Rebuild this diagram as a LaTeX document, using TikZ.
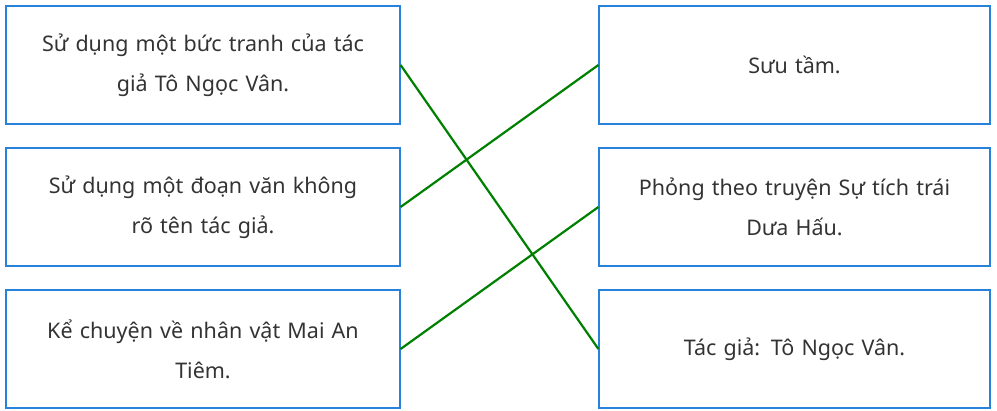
\documentclass[tikz,border=0pt]{standalone}
\usepackage{fontspec}
\setmainfont{Noto Sans}
\begin{document}
\begin{tikzpicture}[x=1pt,y=-1pt,
 box/.style={draw={rgb,255:red,40;green,130;blue,220},line width=1.2pt,minimum width=394pt,minimum height=118pt,text width=385pt,align=center,font=\fontsize{21.5}{40}\selectfont,text=black!80,inner sep=0pt},
 link/.style={draw=green!50!black,line width=2.2pt}]
\useasboundingbox (0,0) rectangle (997,411);
\node[box] (l1) at (203,65) {Sử dụng một bức tranh của tác\\giả Tô Ngọc Vân.};
\node[box] (l2) at (203,207) {Sử dụng một đoạn văn không\\rõ tên tác giả.};
\node[box] (l3) at (203,349) {Kể chuyện về nhân vật Mai An\\Tiêm.};
\node[box,minimum width=391pt] (r1) at (794.5,65) {Sưu tầm.};
\node[box,minimum width=391pt] (r2) at (794.5,207) {Phỏng theo truyện Sự tích trái\\Dưa Hấu.};
\node[box,minimum width=391pt] (r3) at (794.5,349) {Tác giả: Tô Ngọc Vân.};
\draw[link] (l1.east) -- (r3.west);
\draw[link] (l2.east) -- (r1.west);
\draw[link] (l3.east) -- (r2.west);
\end{tikzpicture}
\end{document}
